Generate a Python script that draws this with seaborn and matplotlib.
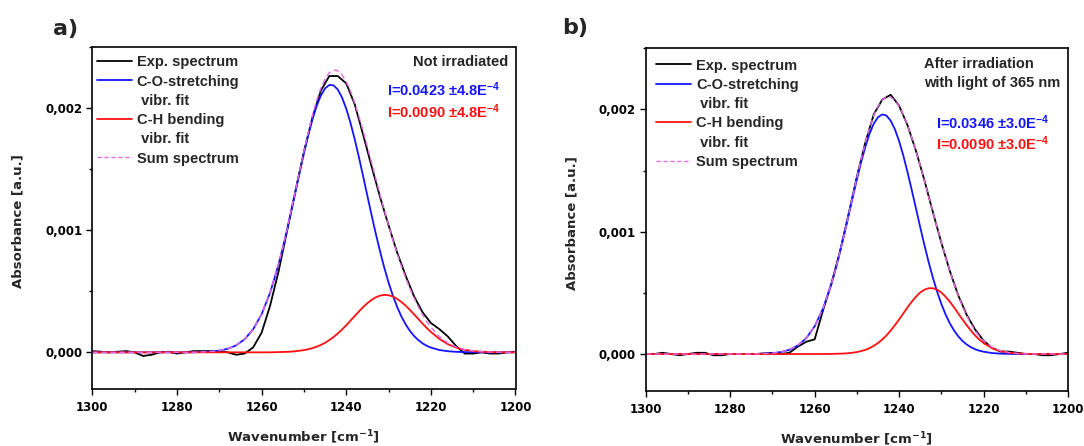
import matplotlib
matplotlib.use("Agg")
import numpy as np
import pandas as pd
import seaborn as sns
import matplotlib.pyplot as plt
from matplotlib.lines import Line2D
from matplotlib.ticker import MultipleLocator, FuncFormatter

# ---------------- data ----------------
# measured spectra grid
wavenumber = [1300, 1298, 1296, 1294, 1292, 1290, 1288, 1286, 1284, 1282,
              1280, 1278, 1276, 1274, 1272, 1270, 1268, 1266, 1264, 1262,
              1260, 1258, 1256, 1254, 1252, 1250, 1248, 1246, 1244, 1242,
              1240, 1238, 1236, 1234, 1232, 1230, 1228, 1226, 1224, 1222,
              1220, 1218, 1216, 1214, 1212, 1210, 1208, 1206, 1204, 1202, 1200]

# fitted curves grid (denser across the band)
wavenumber_fit = [1300, 1298, 1296, 1294, 1292, 1290, 1288, 1286, 1284, 1282,
                  1280, 1278, 1276, 1274, 1272, 1270, 1268, 1266, 1264, 1262,
                  1260, 1258, 1256,
                  1255, 1254, 1253, 1252, 1251, 1250, 1249, 1248, 1247, 1246,
                  1245, 1244, 1243, 1242, 1241, 1240, 1239, 1238, 1237, 1236,
                  1235, 1234, 1233, 1232, 1231, 1230, 1229, 1228, 1227, 1226,
                  1225, 1224, 1223, 1222, 1221,
                  1220, 1218, 1216, 1214, 1212, 1210, 1208, 1206, 1204, 1202, 1200]

# panel a) not irradiated
exp_a = [0.000010, 0.000005, 0.000000, 0.000005, 0.000010, 0.000000, -0.000030, -0.000020, 0.000000, 0.000005,
         -0.000010, 0.000000, 0.000010, 0.000010, 0.000010, 0.000010, 0.000000, -0.000020, -0.000010, 0.000040,
         0.000160, 0.000380, 0.000660, 0.000990, 0.001320, 0.001640, 0.001920, 0.002140, 0.002260, 0.002260,
         0.002200, 0.002030, 0.001780, 0.001520, 0.001270, 0.001040, 0.000820, 0.000630, 0.000460, 0.000330,
         0.000240, 0.000190, 0.000130, 0.000050, -0.000010, -0.000010, 0.000000, -0.000010, -0.000010, 0.000000, 0.000005]
co_a = [0, 0, 0, 0, 0, 0, 0, 0, 0, 0,
        0, 0, 0, 0.000003, 0.000006, 0.000014, 0.000029, 0.000057, 0.000107, 0.000188,
        0.000311, 0.000486, 0.000717,
        0.000853, 0.000999, 0.001153, 0.001312, 0.001472, 0.001627, 0.001772, 0.001903, 0.002014, 0.002100,
        0.002159, 0.002187, 0.002184, 0.002150, 0.002085, 0.001993, 0.001878, 0.001744, 0.001596, 0.001440,
        0.001280, 0.001122, 0.000969, 0.000825, 0.000692, 0.000572, 0.000466, 0.000374, 0.000296, 0.000231,
        0.000178, 0.000135, 0.000101, 0.000074, 0.000054,
        0.000039, 0.000019, 0.000009, 0.000004, 0.000002, 0.000001, 0, 0, 0, 0, 0]
ch_a = [0, 0, 0, 0, 0, 0, 0, 0, 0, 0,
        0, 0, 0, 0, 0, 0, 0, 0, 0, 0,
        0, 0, 0.000002,
        0.000003, 0.000004, 0.000006, 0.000009, 0.000013, 0.000018, 0.000025, 0.000034, 0.000046, 0.000060,
        0.000078, 0.000100, 0.000125, 0.000154, 0.000186, 0.000221, 0.000259, 0.000296, 0.000334, 0.000370,
        0.000402, 0.000429, 0.000450, 0.000464, 0.000470, 0.000467, 0.000457, 0.000438, 0.000413, 0.000383,
        0.000349, 0.000312, 0.000274, 0.000236, 0.000200,
        0.000167, 0.000110, 0.000067, 0.000038, 0.000020, 0.000010, 0.000005, 0.000002, 0.000001, 0, 0]
sum_a = [0, 0, 0, 0, 0, 0, 0, 0, 0, 0,
         0, 0, 0, 0.000003, 0.000006, 0.000014, 0.000029, 0.000057, 0.000107, 0.000188,
         0.000311, 0.000486, 0.000719,
         0.000856, 0.001003, 0.001159, 0.001321, 0.001485, 0.001645, 0.001797, 0.001937, 0.002060, 0.002160,
         0.002237, 0.002287, 0.002309, 0.002304, 0.002271, 0.002214, 0.002137, 0.002040, 0.001930, 0.001810,
         0.001682, 0.001551, 0.001419, 0.001289, 0.001162, 0.001039, 0.000923, 0.000812, 0.000709, 0.000614,
         0.000527, 0.000447, 0.000375, 0.000310, 0.000254,
         0.000206, 0.000129, 0.000076, 0.000042, 0.000022, 0.000011, 0.000005, 0.000002, 0.000001, 0, 0]

# panel b) after irradiation with 365 nm
exp_b = [0.000000, 0.000000, 0.000010, 0.000000, -0.000010, 0.000000, 0.000010, 0.000010, -0.000010, -0.000010,
         0.000000, 0.000000, 0.000000, 0.000000, 0.000005, 0.000010, 0.000000, 0.000010, 0.000060, 0.000100,
         0.000120, 0.000360, 0.000580, 0.000840, 0.001140, 0.001450, 0.001730, 0.001960, 0.002080, 0.002120,
         0.002030, 0.001870, 0.001660, 0.001420, 0.001160, 0.000910, 0.000680, 0.000480, 0.000320, 0.000200,
         0.000110, 0.000050, 0.000020, 0.000020, 0.000010, 0.000000, 0.000000, -0.000010, -0.000010, 0.000000, 0.000010]
co_b = [0, 0, 0, 0, 0, 0, 0, 0, 0, 0,
        0, 0, 0, 0, 0.000003, 0.000007, 0.000016, 0.000034, 0.000069, 0.000129,
        0.000227, 0.000374, 0.000577,
        0.000699, 0.000834, 0.000978, 0.001128, 0.001280, 0.001429, 0.001569, 0.001695, 0.001802, 0.001884,
        0.001937, 0.001959, 0.001950, 0.001908, 0.001838, 0.001741, 0.001622, 0.001486, 0.001340, 0.001189,
        0.001037, 0.000890, 0.000751, 0.000624, 0.000510, 0.000410, 0.000324, 0.000252, 0.000193, 0.000145,
        0.000107, 0.000078, 0.000056, 0.000039, 0.000027,
        0.000019, 0.000008, 0.000003, 0.000001, 0, 0, 0, 0, 0, 0, 0]
ch_b = [0, 0, 0, 0, 0, 0, 0, 0, 0, 0,
        0, 0, 0, 0, 0, 0, 0, 0, 0, 0,
        0, 0, 0.000001,
        0.000002, 0.000003, 0.000004, 0.000007, 0.000011, 0.000016, 0.000024, 0.000034, 0.000048, 0.000067,
        0.000090, 0.000118, 0.000152, 0.000192, 0.000236, 0.000283, 0.000332, 0.000382, 0.000428, 0.000469,
        0.000503, 0.000526, 0.000538, 0.000538, 0.000526, 0.000503, 0.000469, 0.000428, 0.000382, 0.000332,
        0.000283, 0.000236, 0.000192, 0.000152, 0.000118,
        0.000090, 0.000048, 0.000024, 0.000011, 0.000004, 0.000002, 0, 0, 0, 0, 0]
sum_b = [0, 0, 0, 0, 0, 0, 0, 0, 0, 0,
         0, 0, 0, 0, 0.000003, 0.000007, 0.000016, 0.000034, 0.000069, 0.000129,
         0.000227, 0.000374, 0.000578,
         0.000701, 0.000837, 0.000982, 0.001135, 0.001291, 0.001445, 0.001593, 0.001729, 0.001850, 0.001951,
         0.002027, 0.002077, 0.002102, 0.002100, 0.002074, 0.002024, 0.001954, 0.001868, 0.001768, 0.001658,
         0.001540, 0.001416, 0.001289, 0.001162, 0.001036, 0.000913, 0.000793, 0.000680, 0.000575, 0.000477,
         0.000390, 0.000314, 0.000248, 0.000191, 0.000145,
         0.000109, 0.000056, 0.000027, 0.000012, 0.000004, 0.000002, 0, 0, 0, 0, 0]

legend_labels = ["Exp. spectrum", "C-O-stretching", " vibr. fit", "C-H bending", " vibr. fit", "Sum spectrum"]
notes_a = ["Not irradiated"]
notes_b = ["After irradiation", "with light of 365 nm"]
integral_a = ["I=0.0423 \u00b14.8E$^{-4}$", "I=0.0090 \u00b14.8E$^{-4}$"]
integral_b = ["I=0.0346 \u00b13.0E$^{-4}$", "I=0.0090 \u00b13.0E$^{-4}$"]
panel_tags = ["a)", "b)"]
x_ticks = [1300, 1280, 1260, 1240, 1220, 1200]
y_ticks = [0.000, 0.001, 0.002]

# ---------------- style ----------------
sns.set_style("ticks")
plt.rcParams["font.family"] = ["DejaVu Sans"]
plt.rcParams["font.weight"] = "bold"
plt.rcParams["axes.labelweight"] = "bold"
plt.rcParams["mathtext.default"] = "regular"
plt.rcParams["axes.edgecolor"] = "black"
plt.rcParams["xtick.color"] = "black"
plt.rcParams["ytick.color"] = "black"

C_EXP, C_CO, C_CH, C_SUM = "black", "#1414ff", "#ff1010", "#e868e8"
LEGFONT = dict(family="Liberation Sans", weight="bold", size=10.5)

W, H = 1084, 446
fig = plt.figure(figsize=(W / 100, H / 100), dpi=100)


def axes_px(l, t, r, b):
    return fig.add_axes([l / W, 1 - b / H, (r - l) / W, (b - t) / H])


def draw_panel(ax, exp, co, ch, tot, leg_anchor):
    kw = dict(sort=False, legend=False, solid_joinstyle="round", solid_capstyle="round")
    sns.lineplot(x=wavenumber, y=exp, ax=ax, color=C_EXP, lw=1.3, **kw)
    sns.lineplot(x=wavenumber_fit, y=co, ax=ax, color=C_CO, lw=1.3, **kw)
    sns.lineplot(x=wavenumber_fit, y=ch, ax=ax, color=C_CH, lw=1.3, **kw)
    sns.lineplot(x=wavenumber_fit, y=tot, ax=ax, color=C_SUM, lw=1.0, sort=False, legend=False,
                 dashes=False, linestyle=(0, (4, 2.5)))
    ax.set_xlim(1300, 1200)
    ax.set_ylim(-0.0003, 0.0025)
    ax.set_xticks(x_ticks)
    ax.xaxis.set_minor_locator(MultipleLocator(10))
    ax.set_yticks(y_ticks)
    ax.yaxis.set_minor_locator(MultipleLocator(0.0005))
    ax.yaxis.set_major_formatter(FuncFormatter(lambda v, p: f"{v:.3f}".replace(".", ",")))
    ax.tick_params(which="major", direction="out", length=4.5, width=1.0, labelsize=8.5, pad=2.5)
    ax.tick_params(axis="x", which="major", pad=4)
    ax.tick_params(which="minor", direction="out", length=2.5, width=1.0)
    for s in ax.spines.values():
        s.set_linewidth(1.2)
        s.set_visible(True)
    ax.set_xlabel("Wavenumber [cm$^{-1}$]", fontsize=9.5)
    ax.set_ylabel("Absorbance [a.u.]", fontsize=9.5)
    ax.xaxis.set_label_coords(0.5, -0.115)
    ax.yaxis.set_label_coords(-0.16, 0.49)
    handles = [Line2D([0], [0], color=C_EXP, lw=1.3),
               Line2D([0], [0], color=C_CO, lw=1.3),
               Line2D([0], [0], color="none"),
               Line2D([0], [0], color=C_CH, lw=1.3),
               Line2D([0], [0], color="none"),
               Line2D([0], [0], color=C_SUM, lw=1.0, linestyle=(0, (3, 2)))]
    ax.legend(handles, legend_labels, loc="upper left", bbox_to_anchor=leg_anchor,
              frameon=False, prop=LEGFONT, handlelength=2.4, handletextpad=0.35,
              labelspacing=0.36, borderpad=0, borderaxespad=0)


# panel a
ax_a = axes_px(92.3, 46.7, 515.5, 389.0)
draw_panel(ax_a, exp_a, co_a, ch_a, sum_a, (0.01, 0.975))
ax_a.text(0.984, 0.956, notes_a[0], transform=ax_a.transAxes, ha="right", va="center", **LEGFONT)
ax_a.text(0.6955, 0.8735, integral_a[0], transform=ax_a.transAxes, ha="left", va="center",
          color=C_CO, **LEGFONT)
ax_a.text(0.6955, 0.810, integral_a[1], transform=ax_a.transAxes, ha="left", va="center",
          color=C_CH, **LEGFONT)

# panel b
ax_b = axes_px(645.8, 48.3, 1068.0, 390.7)
draw_panel(ax_b, exp_b, co_b, ch_b, sum_b, (0.025, 0.970))
ax_b.text(0.658, 0.954, notes_b[0], transform=ax_b.transAxes, ha="left", va="center", **LEGFONT)
ax_b.text(0.658, 0.898, notes_b[1], transform=ax_b.transAxes, ha="left", va="center", **LEGFONT)
ax_b.text(0.687, 0.784, integral_b[0], transform=ax_b.transAxes, ha="left", va="center",
          color=C_CO, **LEGFONT)
ax_b.text(0.687, 0.721, integral_b[1], transform=ax_b.transAxes, ha="left", va="center",
          color=C_CH, **LEGFONT)

fig.text(53 / W, 1 - 28.5 / H, panel_tags[0], fontsize=16, fontweight="bold", ha="left", va="center")
fig.text(562 / W, 1 - 28 / H, panel_tags[1], fontsize=16, fontweight="bold", ha="left", va="center")

fig.savefig("out.png", dpi=100)
